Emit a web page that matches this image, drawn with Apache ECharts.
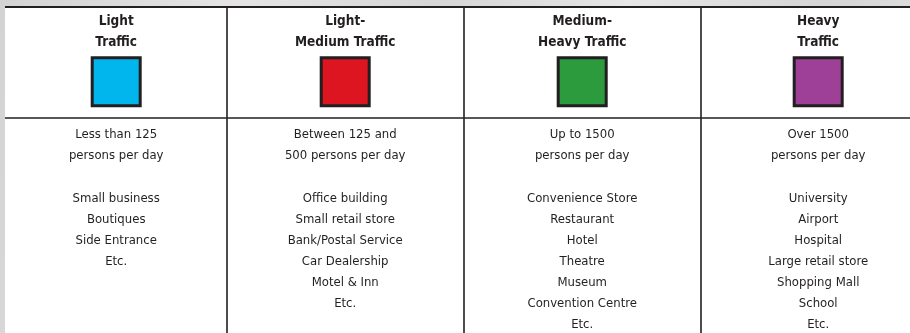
<!DOCTYPE html>
<html>
<head>
<meta charset="utf-8">
<script src="https://cdn.jsdelivr.net/npm/echarts@6/dist/echarts.min.js"></script>
<style>
  html, body { margin: 0; padding: 0; width: 910px; height: 333px; overflow: hidden;
    background: linear-gradient(100deg, #d3d3d3 0%, #e4e4e4 25%, #d6d6d6 45%, #e6e6e6 65%, #d5d5d5 85%, #e0e0e0 100%); }
  #chart { position: absolute; left: 5px; top: 6px; width: 905px; height: 327px; background: #ffffff; }
</style>
</head>
<body>
<div id="chart"></div>
<script>
// ---- data ----
const categories = ['Light\nTraffic', 'Light-\nMedium Traffic', 'Medium-\nHeavy Traffic', 'Heavy\nTraffic'];
const volumeText = [
  ['Less than 125', 'persons per day'],
  ['Between 125 and', '500 persons per day'],
  ['Up to 1500', 'persons per day'],
  ['Over 1500', 'persons per day']
];
const examples = [
  ['Small business', 'Boutiques', 'Side Entrance', 'Etc.'],
  ['Office building', 'Small retail store', 'Bank/Postal Service', 'Car Dealership', 'Motel & Inn', 'Etc.'],
  ['Convenience Store', 'Restaurant', 'Hotel', 'Theatre', 'Museum', 'Convention Centre', 'Etc.'],
  ['University', 'Airport', 'Hospital', 'Large retail store', 'Shopping Mall', 'School', 'Etc.']
];

// ---- style / layout ----
const swatchColors = ['#00b6ed', '#dd1520', '#2b9b3e', '#9e3f98'];
const ink = '#231f20';
const fontFam = '"Liberation Sans Narrow", "DejaVu Sans Condensed", sans-serif';
const colNudge = [8, 0, 0, -1];   // horizontal label nudges per column (px)
const titleRow = 1.17, swatchRow = 3.56;

const headerData = categories.map((c, i) => ({
  value: [i, titleRow, c],
  label: { offset: [colNudge[i], 0] }
}));
const swatchData = categories.map((c, i) => ({
  value: [i, swatchRow],
  symbolOffset: [colNudge[i], 0],
  itemStyle: { color: swatchColors[i] }
}));
const bodyData = [];
categories.forEach((c, i) => {
  const lines = volumeText[i].concat([''], examples[i]);
  lines.forEach((t, r) => {
    if (t !== '') bodyData.push({ value: [i, r, t], label: { offset: [colNudge[i], 0] } });
  });
});

const chart = echarts.init(document.getElementById('chart'), null, { renderer: 'canvas' });
const xBase = {
  type: 'category', data: categories, position: 'top', boundaryGap: true,
  axisTick: { show: false }, axisLabel: { show: false },
  splitLine: { show: true, lineStyle: { color: ink, width: 1.6 } }
};
chart.setOption({
  animation: false,
  grid: [
    { left: -15.3, width: 948, top: 1, height: 110.7, outerBoundsMode: 'none', containLabel: false },
    { left: -15.3, width: 948, top: 111.7, height: 238.9, outerBoundsMode: 'none', containLabel: false }
  ],
  xAxis: [
    Object.assign({}, xBase, { gridIndex: 0, axisLine: { show: true, onZero: false, lineStyle: { color: ink, width: 2 } } }),
    Object.assign({}, xBase, { gridIndex: 1, axisLine: { show: true, onZero: false, lineStyle: { color: ink, width: 1.6 } } })
  ],
  yAxis: [
    { gridIndex: 0, type: 'value', inverse: true, min: 0, max: 5.27, show: false },
    { gridIndex: 1, type: 'value', inverse: true, min: -0.82, max: 10.5, show: false }
  ],
  series: [
    {
      type: 'scatter', xAxisIndex: 0, yAxisIndex: 0, data: headerData,
      symbolSize: 1, itemStyle: { color: 'rgba(0,0,0,0)', opacity: 1 }, silent: true,
      label: {
        show: true, position: 'inside', formatter: p => p.data.value[2],
        fontFamily: fontFam, fontWeight: 'bold', fontSize: 13.5, lineHeight: 21,
        color: ink, opacity: 1, align: 'center', verticalAlign: 'middle'
      }
    },
    {
      type: 'scatter', xAxisIndex: 0, yAxisIndex: 0, data: swatchData,
      symbol: 'rect', symbolSize: 48, silent: true,
      itemStyle: { borderColor: ink, borderWidth: 3, opacity: 1 }
    },
    {
      type: 'scatter', xAxisIndex: 1, yAxisIndex: 1, data: bodyData,
      symbolSize: 1, itemStyle: { color: 'rgba(0,0,0,0)', opacity: 1 }, silent: true,
      label: {
        show: true, position: 'inside', formatter: p => p.data.value[2],
        fontFamily: fontFam, fontSize: 13, color: ink, opacity: 1,
        align: 'center', verticalAlign: 'middle'
      }
    }
  ]
});
</script>
</body>
</html>
